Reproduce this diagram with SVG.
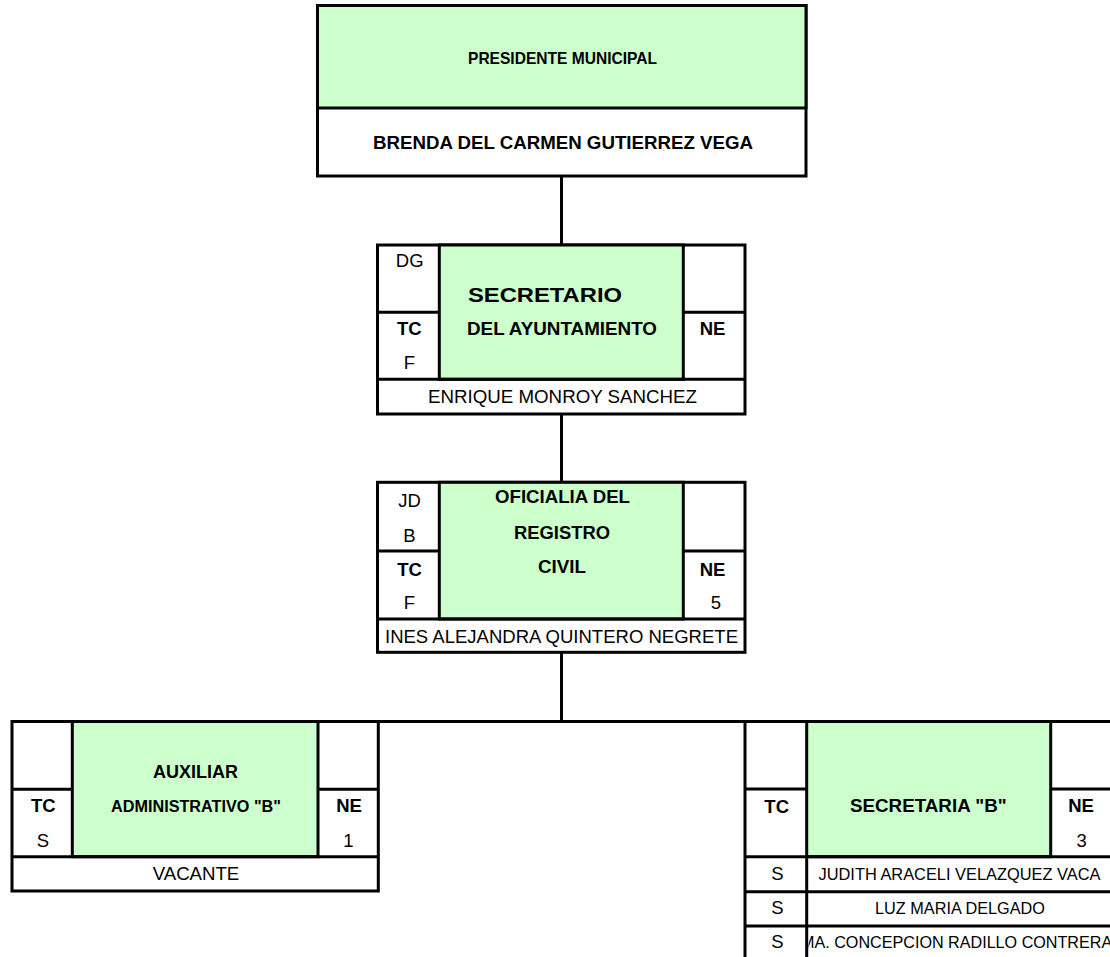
<svg xmlns="http://www.w3.org/2000/svg" width="1110" height="957" viewBox="0 0 1110 957">
<style>
.box{fill:#fff;stroke:#000;stroke-width:3}
.g{fill:#CCFFCC;stroke:#000;stroke-width:3}
.ln{stroke:#000;stroke-width:3;fill:none}
text{font-family:"Liberation Sans",Arial,sans-serif;fill:#000;text-anchor:middle}
.b{font-weight:bold}
.s{font-size:18.5px}
.n{font-size:16.3px}
</style>
<defs>
<clipPath id="lastcell"><rect x="808.5" y="927" width="310" height="40"/></clipPath>
</defs>
<rect width="1110" height="957" fill="#fff"/>
<g id="connectors">
<line class="ln" x1="561.5" y1="176" x2="561.5" y2="245"/>
<line class="ln" x1="561.5" y1="414" x2="561.5" y2="482"/>
<line class="ln" x1="561.5" y1="652" x2="561.5" y2="721.5"/>
<line class="ln" x1="378" y1="721.5" x2="745" y2="721.5"/>
</g>
<g id="presidente">
<rect class="box" x="317.5" y="5.5" width="488.5" height="170.5"/>
<rect class="g" x="317.5" y="5.5" width="488.5" height="102.5"/>
<text class="b" x="562.5" y="63.5" font-size="17" textLength="189" lengthAdjust="spacingAndGlyphs">PRESIDENTE MUNICIPAL</text>
<text class="b" x="563" y="149" font-size="18.6" textLength="380" lengthAdjust="spacingAndGlyphs">BRENDA DEL CARMEN GUTIERREZ VEGA</text>
</g>
<g id="secretario">
<rect class="box" x="377.5" y="245" width="367.5" height="169"/>
<rect class="g" x="439.3" y="245" width="244" height="134.3"/>
<line class="ln" x1="377.5" y1="312.3" x2="439.3" y2="312.3"/>
<line class="ln" x1="683.3" y1="312.3" x2="745" y2="312.3"/>
<line class="ln" x1="377.5" y1="379.3" x2="745" y2="379.3"/>
<text class="s" x="409.7" y="266.7">DG</text>
<text class="s b" x="409.3" y="335">TC</text>
<text class="s" x="409.5" y="369">F</text>
<text class="b" x="545" y="301.7" font-size="19.5" textLength="154" lengthAdjust="spacingAndGlyphs">SECRETARIO</text>
<text class="s b" x="562" y="335" textLength="190" lengthAdjust="spacingAndGlyphs">DEL AYUNTAMIENTO</text>
<text class="s b" x="712.5" y="335">NE</text>
<text class="s" x="562.5" y="403.3" textLength="269" lengthAdjust="spacingAndGlyphs">ENRIQUE MONROY SANCHEZ</text>
</g>
<g id="oficialia">
<rect class="box" x="377.5" y="482.3" width="367.5" height="170"/>
<rect class="g" x="439.3" y="482.3" width="244" height="136.7"/>
<line class="ln" x1="377.5" y1="551" x2="439.3" y2="551"/>
<line class="ln" x1="683.3" y1="551" x2="745" y2="551"/>
<line class="ln" x1="377.5" y1="619" x2="745" y2="619"/>
<text class="s" x="409.5" y="507.3">JD</text>
<text class="s" x="409.5" y="541.7">B</text>
<text class="s b" x="409.5" y="575.7">TC</text>
<text class="s" x="409.5" y="609">F</text>
<text class="s b" x="562.5" y="503.3" textLength="135" lengthAdjust="spacingAndGlyphs">OFICIALIA DEL</text>
<text class="s b" x="562" y="539.3" textLength="96" lengthAdjust="spacingAndGlyphs">REGISTRO</text>
<text class="s b" x="562" y="573.3" textLength="48" lengthAdjust="spacingAndGlyphs">CIVIL</text>
<text class="s b" x="712.5" y="575.7">NE</text>
<text class="s" x="716" y="609">5</text>
<text class="s" x="561.5" y="643.3" textLength="353" lengthAdjust="spacingAndGlyphs">INES ALEJANDRA QUINTERO NEGRETE</text>
</g>
<g id="auxiliar">
<rect class="box" x="12" y="721.5" width="366.3" height="169.5"/>
<rect class="g" x="72.3" y="721.5" width="245.7" height="135.2"/>
<line class="ln" x1="12" y1="789.3" x2="72.3" y2="789.3"/>
<line class="ln" x1="318" y1="789.3" x2="378.3" y2="789.3"/>
<line class="ln" x1="12" y1="856.7" x2="378.3" y2="856.7"/>
<text class="s b" x="195.5" y="778.3" textLength="85" lengthAdjust="spacingAndGlyphs">AUXILIAR</text>
<text class="b" x="196" y="811.7" font-size="15.8" textLength="170" lengthAdjust="spacingAndGlyphs">ADMINISTRATIVO "B"</text>
<text class="s b" x="43.3" y="811.7">TC</text>
<text class="s" x="43" y="846.7">S</text>
<text class="s b" x="349" y="811.7">NE</text>
<text class="s" x="348.3" y="846.7">1</text>
<text class="s" x="196" y="880" textLength="86.6" lengthAdjust="spacingAndGlyphs">VACANTE</text>
</g>
<g id="secretaria-b">
<rect class="box" x="745" y="721.5" width="400" height="260"/>
<rect class="g" x="806.7" y="721.5" width="244" height="135.2"/>
<line class="ln" x1="745" y1="789" x2="806.7" y2="789"/>
<line class="ln" x1="1050.7" y1="789" x2="1112" y2="789"/>
<line class="ln" x1="745" y1="856.7" x2="1112" y2="856.7"/>
<line class="ln" x1="745" y1="891.7" x2="1112" y2="891.7"/>
<line class="ln" x1="745" y1="926" x2="1112" y2="926"/>
<line class="ln" x1="806.7" y1="856.7" x2="806.7" y2="960"/>
<text class="s b" x="776.7" y="812.7">TC</text>
<text class="s b" x="928.3" y="812" textLength="156.7" lengthAdjust="spacingAndGlyphs">SECRETARIA "B"</text>
<text class="s b" x="1081" y="812">NE</text>
<text class="s" x="1081.7" y="846.7">3</text>
<text class="s" x="777.5" y="880">S</text>
<text class="s" x="777.5" y="914">S</text>
<text class="s" x="777.5" y="948.3">S</text>
<text class="n" x="959.5" y="880" textLength="282" lengthAdjust="spacingAndGlyphs">JUDITH ARACELI VELAZQUEZ VACA</text>
<text class="n" x="960" y="914" textLength="170" lengthAdjust="spacingAndGlyphs">LUZ MARIA DELGADO</text>
<text class="n" x="962" y="948.3" textLength="322" lengthAdjust="spacingAndGlyphs" clip-path="url(#lastcell)">MA. CONCEPCION RADILLO CONTRERAS</text>
</g>
</svg>
